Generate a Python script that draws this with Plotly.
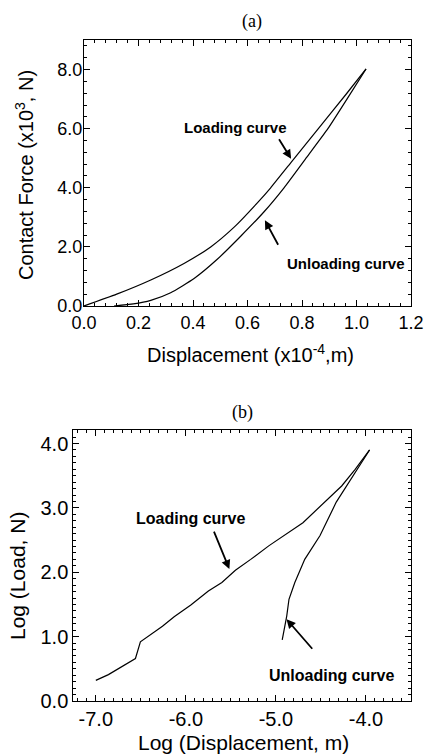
import plotly.graph_objects as go

# ---------------- data: panel (a) ----------------
load_a_x = [0.0, 0.12, 0.245, 0.367, 0.465, 0.55, 0.642, 0.685, 0.76, 0.86, 0.964, 1.035]
load_a_y = [0.0, 0.40, 0.88, 1.44, 2.0, 2.66, 3.55, 4.0, 4.86, 6.0, 7.19, 8.02]
unload_a_x = [0.11, 0.181, 0.245, 0.318, 0.404, 0.489, 0.575, 0.66, 0.734, 0.817, 0.895, 0.976, 1.035]
unload_a_y = [0.0, 0.07, 0.19, 0.45, 0.93, 1.58, 2.36, 3.18, 4.0, 5.03, 6.0, 7.16, 8.02]
a_xticks = [0.0, 0.2, 0.4, 0.6, 0.8, 1.0, 1.2]
a_xtext = ["0.0", "0.2", "0.4", "0.6", "0.8", "1.0", "1.2"]
a_yticks = [0, 2, 4, 6, 8]
a_ytext = ["0.0", "2.0", "4.0", "6.0", "8.0"]

# ---------------- data: panel (b) ----------------
load_b_x = [-7.0, -6.86, -6.56, -6.505, -6.26, -6.13, -5.945, -5.75, -5.60, -5.45, -5.28,
            -5.08, -4.70, -4.42, -4.27, -4.12, -3.96]
load_b_y = [0.32, 0.41, 0.66, 0.92, 1.16, 1.31, 1.49, 1.71, 1.84, 2.03, 2.20,
            2.41, 2.77, 3.14, 3.34, 3.60, 3.90]
unload_b_x = [-3.96, -4.14, -4.33, -4.51, -4.68, -4.79, -4.855, -4.88, -4.93]
unload_b_y = [3.90, 3.50, 3.09, 2.57, 2.20, 1.84, 1.58, 1.32, 0.95]
b_xticks = [-7.0, -6.0, -5.0, -4.0]
b_xtext = ["-7.0", "-6.0", "-5.0", "-4.0"]
b_yticks = [0, 1, 2, 3, 4]
b_ytext = ["0.0", "1.0", "2.0", "3.0", "4.0"]

W, H = 426, 756
SANS = "Liberation Sans, Arial, Helvetica, sans-serif"
SERIF = "Liberation Serif, Times New Roman, serif"


def px(x):
    return x / W


def py(y):
    return 1 - y / H


fig = go.Figure()
line_style = dict(color="black", width=1.2)
fig.add_trace(go.Scatter(x=load_a_x, y=load_a_y, mode="lines", line=dict(**line_style, shape="spline", smoothing=0.5),
                         xaxis="x", yaxis="y", name="Loading curve"))
fig.add_trace(go.Scatter(x=unload_a_x, y=unload_a_y, mode="lines", line=dict(**line_style, shape="spline", smoothing=0.5),
                         xaxis="x", yaxis="y", name="Unloading curve"))
fig.add_trace(go.Scatter(x=load_b_x, y=load_b_y, mode="lines", line=line_style,
                         xaxis="x2", yaxis="y2", name="Loading curve"))
fig.add_trace(go.Scatter(x=unload_b_x, y=unload_b_y, mode="lines", line=line_style,
                         xaxis="x2", yaxis="y2", name="Unloading curve"))


def axis(domain, anchor, rng, tickvals, ticktext, minor_dtick, tick0, fsize, standoff=0):
    return dict(
        domain=domain, anchor=anchor, range=rng,
        tickmode="array", tickvals=tickvals, ticktext=ticktext,
        ticks="inside", ticklen=6, tickwidth=1, tickcolor="black",
        showline=True, linecolor="black", linewidth=1, mirror="allticks",
        showgrid=False, zeroline=False,
        tickfont=dict(family=SANS, size=fsize, color="black"),
        ticklabelstandoff=standoff,
        minor=dict(ticks="inside", ticklen=3, tickwidth=1, tickcolor="black",
                   dtick=minor_dtick, tick0=tick0, showgrid=False),
        automargin=False, fixedrange=True,
    )


fig.update_layout(
    width=W, height=H,
    margin=dict(l=0, r=0, t=0, b=0),
    paper_bgcolor="white", plot_bgcolor="white",
    showlegend=False,
    xaxis=axis([px(84), px(411)], "y", [0, 1.2], a_xticks, a_xtext, 0.04, 0, 18),
    yaxis=axis([py(306), py(40)], "x", [0, 9], a_yticks, a_ytext, 0.4, 0, 18, standoff=-3),
    xaxis2=axis([px(73.3), px(411)], "y2", [-7.25, -3.5], b_xticks, b_xtext, 0.1, 0, 20),
    yaxis2=axis([py(701), py(430)], "x2", [0, 4.21], b_yticks, b_ytext, 0.1, 0, 20),
)

anns = []
# titles
anns.append(dict(text="(a)", x=px(252), y=py(22), font=dict(family=SERIF, size=18, color="black")))
anns.append(dict(text="(b)", x=px(242), y=py(412), font=dict(family=SERIF, size=18, color="black")))
# axis titles
anns.append(dict(text="Displacement (x10<sup>-4</sup>,m)", x=px(251), y=py(353),
                 font=dict(family=SANS, size=20, color="black")))
anns.append(dict(text="Contact Force (x10<sup>3</sup>, N)", x=px(24), y=py(175), textangle=-90,
                 font=dict(family=SANS, size=20, color="black")))
anns.append(dict(text="Log (Displacement, m)", x=px(243), y=py(742),
                 font=dict(family=SANS, size=21, color="black")))
anns.append(dict(text="Log (Load, N)", x=px(17), y=py(576), textangle=-90,
                 font=dict(family=SANS, size=21, color="black")))
for a in anns:
    a.update(xref="paper", yref="paper", showarrow=False, xanchor="center", yanchor="middle")

# curve labels
labels = [
    dict(text="<b>Loading curve</b>", x=0.555, y=6.05, xref="x", yref="y", size=15),
    dict(text="<b>Unloading curve</b>", x=0.96, y=1.45, xref="x", yref="y", size=15),
    dict(text="<b>Loading curve</b>", x=-5.95, y=2.83, xref="x2", yref="y2", size=16),
    dict(text="<b>Unloading curve</b>", x=-4.38, y=0.39, xref="x2", yref="y2", size=16),
]
for l in labels:
    anns.append(dict(text=l["text"], x=l["x"], y=l["y"], xref=l["xref"], yref=l["yref"], showarrow=False,
                     xanchor="center", yanchor="middle", font=dict(family=SANS, size=l["size"], color="black")))

# arrows (tip in data units, tail offset in pixels)
arrows = [
    dict(x=0.76, y=4.98, ax=-13, ay=-21, xref="x", yref="y"),
    dict(x=0.664, y=2.90, ax=14, ay=26, xref="x", yref="y"),
    dict(x=-5.517, y=2.05, ax=-16, ay=-39, xref="x2", yref="y2"),
    dict(x=-4.882, y=1.27, ax=27, ay=31, xref="x2", yref="y2"),
]
for a in arrows:
    anns.append(dict(text="", x=a["x"], y=a["y"], xref=a["xref"], yref=a["yref"], ax=a["ax"], ay=a["ay"],
                     showarrow=True, arrowhead=2, arrowsize=1.0, arrowwidth=1.8, arrowcolor="black", standoff=0))

fig.update_layout(annotations=anns)
fig.write_html("out.html", config={"displayModeBar": False},
               post_script="document.body.style.margin='0';document.body.style.overflow='hidden';")
